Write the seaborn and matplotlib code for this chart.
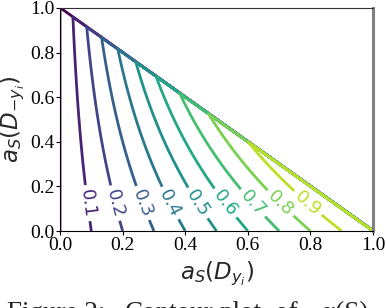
import matplotlib
matplotlib.use("Agg")
import matplotlib.pyplot as plt
import numpy as np
import seaborn as sns

# contour levels (0.0 .. 1.0) and the ones that carry a label
levels = [0.0, 0.1, 0.2, 0.3, 0.4, 0.5, 0.6, 0.7, 0.8, 0.9, 1.0]
label_levels = [0.1, 0.2, 0.3, 0.4, 0.5, 0.6, 0.7, 0.8, 0.9]
exponent = 2.5
label_height = 0.125

ticks = [0.0, 0.2, 0.4, 0.6, 0.8, 1.0]
tick_labels = ["0.0", "0.2", "0.4", "0.6", "0.8", "1.0"]
x_label = r"$a_S(D_{y_i})$"
y_label = r"$a_S(D_{-y_i})$"
# caption of the paper, cropped at the bottom edge like in the source image
caption_words = ["Figure 2:", "Contour", "plot", "of", "\u03b1(S)"]
caption_x = [7, 125, 220, 275, 321]

sns.set_theme(style="ticks")
plt.rcParams["font.family"] = ["DejaVu Sans"]
plt.rcParams["mathtext.fontset"] = "dejavusans"


def field(x, y):
    with np.errstate(divide="ignore", invalid="ignore"):
        ratio = np.where(y < 1, (1 - y ** exponent) / np.where(y < 1, 1 - y, 1), exponent)
    z = x * ratio
    return np.where(x + y <= 1 + 1e-9, z, 0.0)


n = 600
grid = np.linspace(0, 1, n + 1)
X, Y = np.meshgrid(grid, grid)
Z = field(X, Y)

fig = plt.figure(figsize=(3.86, 3.08), dpi=100)
ax = fig.add_axes([60 / 386, 77 / 308, 313 / 386, 223 / 308])

cs = ax.contour(X, Y, Z, levels=levels, cmap="viridis", linewidths=2.0)
lab_y = label_height
positions = [(c * (1 - lab_y) / (1 - lab_y ** exponent), lab_y) for c in label_levels]
ax.clabel(cs, inline=True, fmt="%.1f", fontsize=13,
          manual=positions, inline_spacing=4)

ax.set_xlim(0, 1)
ax.set_ylim(0, 1)
ax.set_xticks(ticks)
ax.set_xticklabels(tick_labels)
ax.set_yticks(ticks)
ax.set_yticklabels(tick_labels)
for lab in ax.get_xticklabels() + ax.get_yticklabels():
    lab.set_family("Liberation Serif")
    lab.set_fontsize(14)
ax.tick_params(length=3, width=0.8, pad=1, colors="black")
ax.set_xlabel(x_label, fontsize=16.5, labelpad=4)
ax.set_ylabel(y_label, fontsize=16.5, labelpad=2)

for side in ["left", "bottom"]:
    ax.spines[side].set_color("black")
    ax.spines[side].set_linewidth(0.8)
ax.spines["top"].set_color("#333333")
ax.spines["top"].set_linewidth(0.8)
ax.spines["right"].set_color("#808080")
ax.spines["right"].set_linewidth(2.2)

for word, px in zip(caption_words, caption_x):
    fig.text(px / 386, -12 / 308, word, family="Liberation Serif", fontsize=19.5,
             va="baseline", ha="left")

fig.savefig("out.png", dpi=100, facecolor="white")
